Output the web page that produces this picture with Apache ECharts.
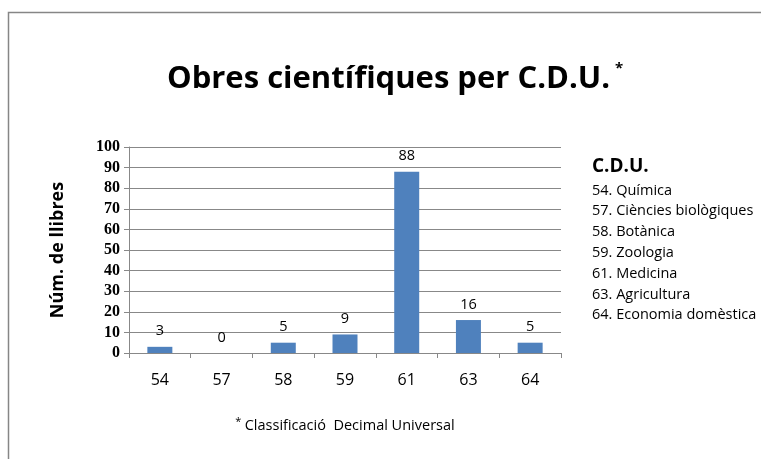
<!DOCTYPE html>
<html><head><meta charset="utf-8">
<script src="https://cdn.jsdelivr.net/npm/echarts@6/dist/echarts.min.js"></script>
<style>html,body{margin:0;padding:0;background:#fff}#c{width:761px;height:459px}</style>
</head><body><div id="c"></div>
<script>
const categories = ['54','57','58','59','61','63','64'];
const values = [3, 0, 5, 9, 88, 16, 5];
const legendTitle = 'C.D.U.';
const legendItems = ['54. Química','57. Ciències biològiques','58. Botànica','59. Zoologia','61. Medicina','63. Agricultura','64. Economia domèstica'];
const titleText = 'Obres científiques per C.D.U.';
const yName = 'Núm. de llibres';
const xName = 'Classificació  Decimal Universal';

const chart = echarts.init(document.getElementById('c'), null, {renderer:'canvas'});
const legendGraphics = [{type:'text', left:592, top:157, style:{text:legendTitle, font:'bold 19px "Open Sans", sans-serif', fill:'#000'}}];
legendItems.forEach((t,i)=>legendGraphics.push({type:'text', left:592, top:183+i*20.8, style:{text:t, font:'14.5px "Open Sans", sans-serif', fill:'#000'}}));

chart.setOption({
  animation:false,
  title:{
    text:'{a|'+titleText+'}{s|*}', left:162, top:52, itemGap:0,
    textStyle:{rich:{
      a:{fontSize:31, fontWeight:'bold', fontFamily:'"Open Sans", sans-serif', color:'#000', lineHeight:44},
      s:{fontSize:15, fontFamily:'"Open Sans", sans-serif', color:'#000', verticalAlign:'top', lineHeight:44, padding:[4,0,16,5]}
    }}
  },
  graphic:[
    {type:'rect', shape:{x:8.5, y:12.5, width:800, height:500}, style:{fill:'none', stroke:'#868686', lineWidth:1.5}, silent:true},
    ...legendGraphics
  ],
  grid:{left:129, right:200, top:147, bottom:106, containLabel:false},
  xAxis:{
    type:'category', data:categories,
    axisLine:{lineStyle:{color:'#888', width:1}},
    axisTick:{show:true, length:5, lineStyle:{color:'#888'}},
    axisLabel:{fontSize:16, fontFamily:'"Open Sans", sans-serif', color:'#000', margin:19},
    name:'{s|*} {a|'+xName+'}', nameLocation:'middle', nameGap:63,
    nameTextStyle:{rich:{
      a:{fontSize:14.5, fontFamily:'"Open Sans", sans-serif', color:'#000', lineHeight:20},
      s:{fontSize:11, fontFamily:'"Open Sans", sans-serif', color:'#000', verticalAlign:'top', lineHeight:20}
    }}
  },
  yAxis:{
    type:'value', min:0, max:100, interval:10,
    axisLine:{show:true, lineStyle:{color:'#888'}},
    axisTick:{show:true, length:5, lineStyle:{color:'#888'}},
    splitLine:{lineStyle:{color:'#888', width:1}},
    axisLabel:{fontSize:16, fontFamily:'"Liberation Serif", serif', fontWeight:'bold', color:'#000', margin:9},
    name:yName, nameLocation:'middle', nameGap:62,
    nameTextStyle:{fontSize:18, fontWeight:'bold', fontFamily:'"Open Sans", sans-serif', color:'#000'}
  },
  series:[{
    type:'bar', data:values, barWidth:25,
    itemStyle:{color:'#4F81BD'},
    label:{show:true, position:'top', distance:8, fontSize:14.5, fontFamily:'"Open Sans", sans-serif', color:'#000'}
  }]
});
</script></body></html>
